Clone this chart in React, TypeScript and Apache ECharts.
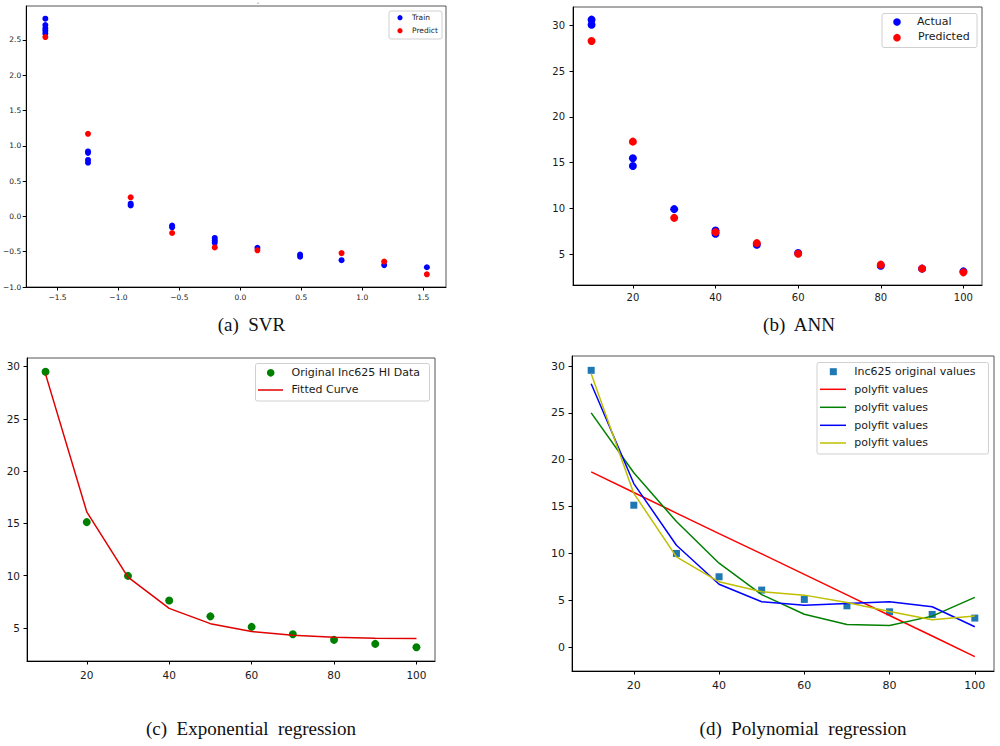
import React, { useEffect, useRef } from "react";
import * as echarts from "echarts";

// ---------- (a) SVR ----------
const svrTrain: number[][] = [
  [-1.6, 2.8], [-1.6, 2.71], [-1.6, 2.665], [-1.6, 2.63], [-1.6, 2.59],
  [-1.25, 0.92], [-1.25, 0.9], [-1.25, 0.8], [-1.25, 0.76],
  [-0.9, 0.18], [-0.9, 0.155],
  [-0.56, -0.13], [-0.56, -0.155],
  [-0.21, -0.305], [-0.21, -0.34], [-0.21, -0.375],
  [0.14, -0.445],
  [0.49, -0.54], [0.49, -0.57],
  [0.83, -0.62],
  [1.18, -0.69],
  [1.53, -0.72],
];
const svrPredict: number[][] = [
  [-1.6, 2.54], [-1.25, 1.17], [-0.9, 0.27], [-0.56, -0.235], [-0.21, -0.44],
  [0.14, -0.48], [0.83, -0.52], [1.18, -0.64], [1.53, -0.82],
];
const svrXTicks = [-1.5, -1.0, -0.5, 0.0, 0.5, 1.0, 1.5];
const svrYTicks = [-1.0, -0.5, 0.0, 0.5, 1.0, 1.5, 2.0, 2.5];

// ---------- (b) ANN ----------
const annActual: number[][] = [
  [10, 30.62], [10, 30.07], [20, 15.48], [20, 14.65], [30, 9.93],
  [40, 7.6], [40, 7.24], [50, 6.04], [60, 5.14], [80, 3.76], [90, 3.44], [100, 3.14],
];
const annPredicted: number[][] = [
  [10, 28.29], [20, 17.3], [30, 8.98], [40, 7.42], [50, 6.22],
  [60, 5.06], [80, 3.87], [90, 3.44], [100, 3.03],
];

// ---------- (c) Exponential regression & (d) Polynomial regression ----------
const loads = [10, 20, 30, 40, 50, 60, 70, 80, 90, 100];
const hiData = [29.49, 15.12, 9.98, 7.63, 6.11, 5.1, 4.4, 3.86, 3.48, 3.16];
const expFit = [29.27, 16.1, 9.85, 6.87, 5.41, 4.65, 4.3, 4.11, 4.02, 3.98];

const polyOriginal = [29.54, 15.14, 9.99, 7.5, 6.08, 5.08, 4.4, 3.76, 3.48, 3.09];
const polyDeg1 = [18.7, 16.5, 14.3, 12.1, 9.95, 7.76, 5.57, 3.37, 1.18, -1.03];
const polyDeg2 = [25.0, 18.6, 13.4, 8.95, 5.6, 3.5, 2.4, 2.3, 3.3, 5.3];
const polyDeg3 = [28.1, 17.45, 10.87, 6.7, 4.83, 4.45, 4.65, 4.83, 4.3, 2.17];
const polyDeg4 = [29.18, 16.4, 9.63, 6.96, 5.9, 5.54, 4.75, 3.8, 2.9, 3.3];

const loadTicks = [20, 40, 60, 80, 100];
const hiTicks5 = [5, 10, 15, 20, 25, 30];
const hiTicks0 = [0, 5, 10, 15, 20, 25, 30];

const captions = ["(a)  SVR", "(b)  ANN", "(c)  Exponential  regression", "(d)  Polynomial  regression"];

const pair = (xs: number[], ys: number[]) => xs.map((x, i) => [x, ys[i]]);
const mpl = (v: number, dec: number) => {
  const s = v.toFixed(dec);
  return s.replace("-", "\u2212");
};

const FONT = "DejaVu Sans";

function xAxis(gridIndex: number, min: number, max: number, ticks: number[], fontSize: number, margin: number, dec: number) {
  return {
    type: "value", gridIndex, min, max,
    axisLine: { show: true, onZero: false, lineStyle: { color: "#000", width: 1 } },
    axisTick: { show: true, length: 3.5, lineStyle: { color: "#000" }, customValues: ticks },
    axisLabel: {
      show: true, fontSize, fontFamily: FONT, color: "#1a1a1a", margin,
      customValues: ticks, formatter: (v: number) => mpl(v, dec),
    },
    splitLine: { show: false },
  };
}
function yAxis(gridIndex: number, min: number, max: number, ticks: number[], fontSize: number, margin: number, dec: number) {
  return {
    type: "value", gridIndex, min, max,
    axisLine: { show: true, onZero: false, lineStyle: { color: "#000", width: 1 } },
    axisTick: { show: true, length: 3.5, lineStyle: { color: "#000" }, customValues: ticks },
    axisLabel: {
      show: true, fontSize, fontFamily: FONT, color: "#1a1a1a", margin,
      customValues: ticks, formatter: (v: number) => mpl(v, dec),
    },
    splitLine: { show: false },
  };
}

function legendBox(x: number, y: number, w: number, h: number) {
  return {
    type: "rect", shape: { x, y, width: w, height: h, r: 2 },
    style: { fill: "rgba(255,255,255,0.85)", stroke: "#d0d0d0", lineWidth: 1 }, z: 100,
  };
}
function legendText(x: number, y: number, text: string, fontSize: number) {
  return {
    type: "text", x, y, z: 101,
    style: { text, fontSize, fontFamily: FONT, fill: "#1a1a1a", textVerticalAlign: "middle", verticalAlign: "middle" },
  };
}
function legendDot(cx: number, cy: number, r: number, color: string) {
  return { type: "circle", shape: { cx, cy, r }, style: { fill: color }, z: 101 };
}
function legendLine(x1: number, x2: number, y: number, color: string) {
  return { type: "line", shape: { x1, y1: y, x2, y2: y }, style: { stroke: color, lineWidth: 1.5 }, z: 101 };
}
function caption(cx: number, cy: number, text: string) {
  return {
    type: "text", x: cx, y: cy,
    style: {
      text, fontSize: 19, fontFamily: "Liberation Serif", fill: "#111",
      align: "center", textAlign: "center", verticalAlign: "middle", textVerticalAlign: "middle",
    },
  };
}

export default function App() {
  const ref = useRef<HTMLDivElement>(null);
  useEffect(() => {
    if (!ref.current) return;
    const chart = echarts.init(ref.current, null, { renderer: "svg" });
    const gridStyle = { show: true, borderColor: "#555", borderWidth: 1, backgroundColor: "transparent", containLabel: false };
    const option: any = {
      animation: false,
      backgroundColor: "#fff",
      grid: [
        { ...gridStyle, left: 25, top: 6, width: 421, height: 281 },
        { ...gridStyle, left: 573, top: 7, width: 409, height: 278 },
        { ...gridStyle, left: 27, top: 358, width: 408, height: 303 },
        { ...gridStyle, left: 572, top: 356, width: 422, height: 315 },
      ],
      xAxis: [
        xAxis(0, -1.757, 1.687, svrXTicks, 7.5, 6, 1),
        xAxis(1, 5.5, 104.5, loadTicks, 10, 7, 0),
        xAxis(2, 5.5, 104.5, loadTicks, 10.5, 8, 0),
        xAxis(3, 5.5, 104.5, loadTicks, 11, 8.5, 0),
      ],
      yAxis: [
        yAxis(0, -1.0, 2.98, svrYTicks, 7.5, 5, 1),
        yAxis(1, 1.65, 32.0, hiTicks5, 10, 8, 0),
        yAxis(2, 1.84, 30.81, hiTicks5, 10.5, 7, 0),
        yAxis(3, -2.56, 31.07, hiTicks0, 11, 7, 0),
      ],
      series: [
        { name: "Train", type: "scatter", xAxisIndex: 0, yAxisIndex: 0, data: svrTrain, symbolSize: 6, itemStyle: { color: "#0000ff", opacity: 1 } },
        { name: "Predict", type: "scatter", xAxisIndex: 0, yAxisIndex: 0, data: svrPredict, symbolSize: 6, itemStyle: { color: "#ff0000", opacity: 1 } },
        { name: "Actual", type: "scatter", xAxisIndex: 1, yAxisIndex: 1, data: annActual, symbolSize: 8, itemStyle: { color: "#0000ff", opacity: 1 } },
        { name: "Predicted", type: "scatter", xAxisIndex: 1, yAxisIndex: 1, data: annPredicted, symbolSize: 8, itemStyle: { color: "#ff0000", opacity: 1 } },
        { name: "Original Inc625 HI Data", type: "scatter", xAxisIndex: 2, yAxisIndex: 2, data: pair(loads, hiData), symbolSize: 8, itemStyle: { color: "#008000", opacity: 1 } },
        { name: "Fitted Curve", type: "line", xAxisIndex: 2, yAxisIndex: 2, data: pair(loads, expFit), showSymbol: false, symbol: "none", lineStyle: { color: "#e00000", width: 1.5 } },
        { name: "Inc625 original values", type: "scatter", xAxisIndex: 3, yAxisIndex: 3, data: pair(loads, polyOriginal), symbol: "rect", symbolSize: 7, itemStyle: { color: "#1f77b4", opacity: 1 } },
        { name: "polyfit values 1", type: "line", xAxisIndex: 3, yAxisIndex: 3, data: pair(loads, polyDeg1), symbol: "none", lineStyle: { color: "#ff0000", width: 1.5 } },
        { name: "polyfit values 2", type: "line", xAxisIndex: 3, yAxisIndex: 3, data: pair(loads, polyDeg2), symbol: "none", lineStyle: { color: "#008000", width: 1.5 } },
        { name: "polyfit values 3", type: "line", xAxisIndex: 3, yAxisIndex: 3, data: pair(loads, polyDeg3), symbol: "none", lineStyle: { color: "#0000ff", width: 1.5 } },
        { name: "polyfit values 4", type: "line", xAxisIndex: 3, yAxisIndex: 3, data: pair(loads, polyDeg4), symbol: "none", lineStyle: { color: "#bfbf00", width: 1.5 } },
      ],
      graphic: [
        // tiny title mark of panel (a)
        { type: "text", x: 258, y: 3, style: { text: "-", fontSize: 7, fontFamily: FONT, fill: "#666", textAlign: "center", align: "center", verticalAlign: "middle", textVerticalAlign: "middle" } },
        // legend (a)
        legendBox(389, 11, 53, 28),
        legendDot(400, 17.7, 2.6, "#0000ff"),
        legendDot(400, 30.7, 2.6, "#ff0000"),
        legendText(412, 17.5, "Train", 7.5),
        legendText(412, 30.5, "Predict", 7.5),
        // legend (b)
        legendBox(882, 13.5, 95, 34),
        legendDot(897, 22, 3.8, "#0000ff"),
        legendDot(897, 37.7, 3.8, "#ff0000"),
        legendText(917, 21, "Actual", 11),
        legendText(918, 36.7, "Predicted", 11),
        // legend (c)
        legendBox(255.5, 363.5, 174, 37.5),
        legendDot(270.7, 372.8, 3.8, "#008000"),
        legendLine(258, 283, 390, "#e00000"),
        legendText(291.5, 372.5, "Original Inc625 HI Data", 11),
        legendText(291.5, 389.5, "Fitted Curve", 11),
        // legend (d)
        legendBox(817, 362.5, 171.5, 91.5),
        { type: "rect", shape: { x: 829.8, y: 368.2, width: 7, height: 7 }, style: { fill: "#1f77b4" }, z: 101 },
        legendLine(820, 846, 389.3, "#ff0000"),
        legendLine(820, 846, 407.3, "#008000"),
        legendLine(820, 846, 425.3, "#0000ff"),
        legendLine(820, 846, 443, "#bfbf00"),
        legendText(854.3, 371.5, "Inc625 original values", 11),
        legendText(854.3, 389, "polyfit values", 11),
        legendText(854.3, 407, "polyfit values", 11),
        legendText(854.3, 425, "polyfit values", 11),
        legendText(854.3, 442.7, "polyfit values", 11),
        // captions
        caption(251.5, 324, captions[0]),
        caption(799, 324, captions[1]),
        caption(251, 728, captions[2]),
        caption(803, 728, captions[3]),
      ],
    };
    chart.setOption(option);
    return () => chart.dispose();
  }, []);
  return <div ref={ref} style={{ position: "absolute", left: 0, top: 0, width: 1000, height: 746 }} />;
}
